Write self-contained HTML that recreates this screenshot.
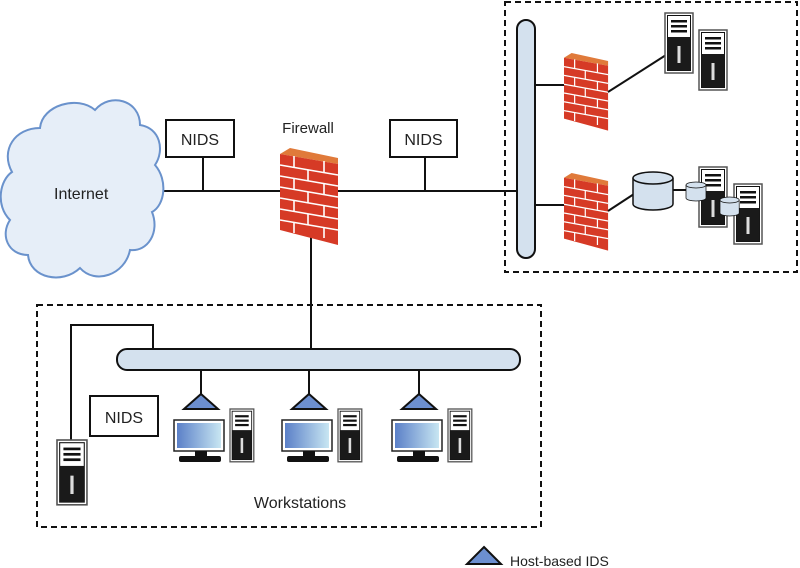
<!DOCTYPE html>
<html><head><meta charset="utf-8"><style>
html,body{margin:0;padding:0;background:#fff}
svg{display:block}
text{font-family:"Liberation Sans",sans-serif;fill:#222}
</style></head><body>
<svg width="800" height="568" viewBox="0 0 800 568" xmlns="http://www.w3.org/2000/svg">
<defs>
<g id="fw">
  <polygon points="0,6 10,0 58,10 58,16" fill="#e07a3a"/>
  <polygon points="0,6 58,16 58,97 0,82" fill="#d63a26"/>
  <g stroke="#fff" stroke-width="1.6">
    <line x1="0" y1="17" x2="58" y2="27"/>
    <line x1="0" y1="28" x2="58" y2="38"/>
    <line x1="0" y1="39" x2="58" y2="49"/>
    <line x1="0" y1="50" x2="58" y2="60"/>
    <line x1="0" y1="61" x2="58" y2="71"/>
    <line x1="0" y1="72" x2="58" y2="82"/>
    <line x1="14" y1="8" x2="14" y2="19"/><line x1="44" y1="13" x2="44" y2="24"/>
    <line x1="28" y1="22" x2="28" y2="33"/>
    <line x1="14" y1="30" x2="14" y2="41"/><line x1="44" y1="35" x2="44" y2="46"/>
    <line x1="28" y1="44" x2="28" y2="55"/>
    <line x1="14" y1="52" x2="14" y2="63"/><line x1="44" y1="57" x2="44" y2="68"/>
    <line x1="28" y1="66" x2="28" y2="77"/>
    <line x1="14" y1="74" x2="14" y2="85"/><line x1="44" y1="79" x2="44" y2="90"/>
  </g>
</g>
<g id="srv">
  <rect x="0" y="0" width="28" height="60" fill="#fff" stroke="#555" stroke-width="1.5"/>
  <rect x="2.5" y="2.5" width="23" height="55" fill="#fff" stroke="#111" stroke-width="1"/>
  <rect x="2.5" y="24" width="23" height="33.5" fill="#1a1a1a"/>
  <rect x="6" y="7" width="16" height="2.5" fill="#111"/>
  <rect x="6" y="12" width="16" height="2.5" fill="#111"/>
  <rect x="6" y="17" width="16" height="2.5" fill="#111"/>
  <rect x="12.5" y="33" width="3" height="17" fill="#ddd"/>
</g>
<g id="ws">
  <line x1="28" y1="370" x2="28" y2="394" stroke="#111" stroke-width="2"/>
  <polygon points="28,394 45,409 11,409" fill="#6c8fd0" stroke="#111" stroke-width="2"/>
  <linearGradient id="scr" x1="0" x2="1"><stop offset="0" stop-color="#5b80c8"/><stop offset="1" stop-color="#c8e6f2"/></linearGradient>
  <rect x="1" y="420" width="50" height="31" fill="#fff" stroke="#222" stroke-width="1.5"/>
  <rect x="4" y="423" width="44" height="25" fill="url(#scr)"/>
  <rect x="22" y="451" width="12" height="6" fill="#111"/>
  <rect x="6" y="456" width="42" height="6" rx="2" fill="#111"/>
  <g transform="translate(57,409) scale(0.85,0.88)"><use href="#srv"/></g>
</g>
<g id="disk">
  <path d="M0,6 L0,32 A20,6 0 0 0 40,32 L40,6" fill="#d4e1ee" stroke="#111" stroke-width="1.5"/>
  <ellipse cx="20" cy="6" rx="20" ry="6" fill="#d4e1ee" stroke="#111" stroke-width="1.5"/>
</g>
</defs>

<!-- dashed boxes -->
<rect x="505" y="2" width="292" height="270" fill="none" stroke="#111" stroke-width="2" stroke-dasharray="6,4"/>
<rect x="37" y="305" width="504" height="222" fill="none" stroke="#111" stroke-width="2" stroke-dasharray="6,4"/>

<!-- main line -->
<line x1="162" y1="191" x2="518" y2="191" stroke="#111" stroke-width="2"/>
<line x1="203" y1="157" x2="203" y2="191" stroke="#111" stroke-width="2"/>
<line x1="425" y1="157" x2="425" y2="191" stroke="#111" stroke-width="2"/>
<line x1="311" y1="230" x2="311" y2="350" stroke="#111" stroke-width="2"/>

<!-- cloud -->
<path d="M40,128 C42,105 78,95 95,110 C110,92 140,100 140,125 C160,128 165,150 155,165 C168,180 165,205 152,212 C160,232 148,252 130,250 C125,275 95,285 80,268 C62,285 30,278 28,255 C8,255 0,235 10,220 C-5,205 0,180 12,172 C0,150 15,128 40,128 Z" fill="#e6eef8" stroke="#6a92cc" stroke-width="2"/>
<text x="54" y="199" font-size="16">Internet</text>

<!-- NIDS -->
<rect x="166" y="120" width="68" height="37" fill="#fff" stroke="#111" stroke-width="2"/>
<text x="200" y="145" font-size="16" text-anchor="middle">NIDS</text>
<rect x="390" y="120" width="67" height="37" fill="#fff" stroke="#111" stroke-width="2"/>
<text x="423.5" y="145" font-size="16" text-anchor="middle">NIDS</text>
<text x="308" y="133" font-size="15" text-anchor="middle">Firewall</text>

<use href="#fw" transform="translate(280,148)"/>

<!-- right area -->
<line x1="535" y1="85" x2="565" y2="85" stroke="#111" stroke-width="2"/>
<line x1="535" y1="205" x2="565" y2="205" stroke="#111" stroke-width="2"/>
<rect x="517" y="20" width="18" height="238" rx="9" fill="#d4e1ee" stroke="#111" stroke-width="2"/>
<use href="#fw" transform="translate(564,53) scale(0.76,0.8)"/>
<use href="#fw" transform="translate(564,173) scale(0.76,0.8)"/>
<line x1="608" y1="92" x2="666" y2="55" stroke="#111" stroke-width="2"/>
<line x1="608" y1="211" x2="634" y2="194" stroke="#111" stroke-width="2"/>
<line x1="673" y1="190" x2="687" y2="190" stroke="#111" stroke-width="2"/>
<use href="#srv" transform="translate(665,13)"/>
<use href="#srv" transform="translate(699,30)"/>
<use href="#srv" transform="translate(699,167)"/>
<use href="#srv" transform="translate(734,184)"/>
<use href="#disk" transform="translate(633,172)"/>
<use href="#disk" transform="translate(686,182) scale(0.5,0.5)"/>
<use href="#disk" transform="translate(720,197) scale(0.48,0.5)"/>

<!-- bottom area -->
<polyline points="71,440 71,325 153,325 153,350" fill="none" stroke="#111" stroke-width="2"/>
<use href="#ws" transform="translate(173,0)"/>
<use href="#ws" transform="translate(281,0)"/>
<use href="#ws" transform="translate(391,0)"/>
<rect x="117" y="349" width="403" height="21" rx="10" fill="#d4e1ee" stroke="#111" stroke-width="2"/>
<rect x="90" y="396" width="68" height="40" fill="#fff" stroke="#111" stroke-width="2"/>
<text x="124" y="423" font-size="16" text-anchor="middle">NIDS</text>
<use href="#srv" transform="translate(57,440) scale(1.07,1.08)"/>
<text x="300" y="508" font-size="16" text-anchor="middle">Workstations</text>

<!-- legend -->
<polygon points="484,547 501,564 467,564" fill="#6c8fd0" stroke="#111" stroke-width="2"/>
<text x="510" y="566" font-size="14">Host-based IDS</text>
</svg>
</body></html>
